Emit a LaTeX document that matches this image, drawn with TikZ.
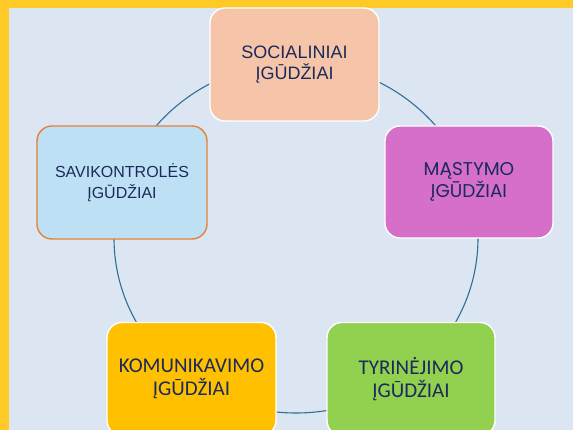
\documentclass[tikz,border=0pt]{standalone}
\usepackage{fontspec}
\setmainfont{Liberation Sans}
\newfontfamily\geofont{Poppins}
\newfontfamily\humfont{Carlito}
\definecolor{bgblue}{HTML}{DCE6F2}
\definecolor{frameyellow}{HTML}{FFC926}
\definecolor{ringblue}{HTML}{2E6F98}
\definecolor{navy}{HTML}{1B2A5A}
\definecolor{peach}{HTML}{F5C4A9}
\definecolor{orchid}{HTML}{D66FC7}
\definecolor{skyfill}{HTML}{BEE0F4}
\definecolor{orangeedge}{HTML}{E8803A}
\definecolor{amber}{HTML}{FFC000}
\definecolor{lime}{HTML}{92D050}
\tikzset{
  skillbox/.style={rectangle, rounded corners=15pt, minimum width=169pt, minimum height=113pt,
    align=center, text=navy, draw=white, line width=1.4pt, inner sep=2pt},
}
\begin{document}
\begin{tikzpicture}[x=1pt,y=-1pt]
\useasboundingbox (0,0) rectangle (573,430);
\clip (0,0) rectangle (573,430);
\fill[bgblue] (0,0) rectangle (573,430);
\fill[frameyellow] (0,0) rectangle (573,8.5);
\fill[frameyellow] (0,0) rectangle (9,430);
\draw[ringblue, line width=1.1pt] (296,238) ellipse [x radius=182, y radius=175];
\node[skillbox, fill=peach, font=\fontsize{18}{20.5}\selectfont] (soc) at (294.5,64.5) {SOCIALINIAI\\ĮGŪDŽIAI};
\node[skillbox, fill=orchid, minimum width=168pt, minimum height=112pt, font=\geofont\fontsize{18.5}{22}\selectfont] (mas) at (469,182) {MĄSTYMO\\ĮGŪDŽIAI};
\node[skillbox, fill=skyfill, draw=orangeedge, minimum width=170pt, font=\fontsize{16}{20.5}\selectfont] (sav) at (122,182.5) {SAVIKONTROLĖS\\ĮGŪDŽIAI};
\node[skillbox, fill=amber, font=\humfont\fontsize{21}{22.5}\selectfont] (kom) at (191.5,379) {KOMUNIKAVIMO\\ĮGŪDŽIAI};
\node[skillbox, fill=lime, minimum width=168pt, font=\humfont\fontsize{21}{22.5}\selectfont] (tyr) at (411,379) {TYRINĖJIMO\\ĮGŪDŽIAI};
\end{tikzpicture}
\end{document}
